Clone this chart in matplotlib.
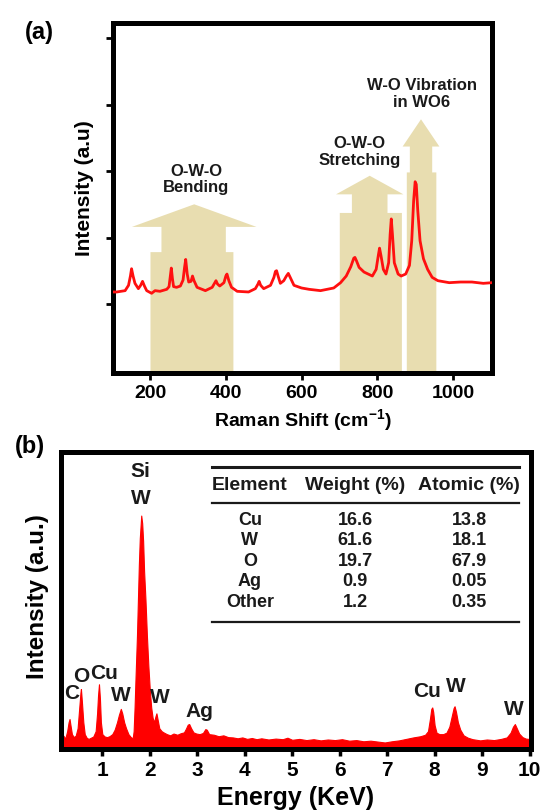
import matplotlib
matplotlib.use('Agg')
import matplotlib.pyplot as plt

plt.rcParams['font.family'] = ['Liberation Sans', 'DejaVu Sans']
plt.rcParams['font.weight'] = 'bold'
plt.rcParams['mathtext.fontset'] = 'custom'
plt.rcParams['mathtext.rm'] = 'Liberation Sans:bold'
plt.rcParams['mathtext.bf'] = 'Liberation Sans:bold'
plt.rcParams['mathtext.default'] = 'bf'

# (a) Raman spectrum
raman_shift = [102, 112, 134, 143, 148, 151, 155, 160, 169, 175, 180, 185, 191, 204, 213, 226,
               244, 250, 253, 256, 259, 262, 270, 280, 287, 291, 294, 298, 302, 308, 312, 316,
               324, 346, 364, 370, 374, 378, 384, 395, 400, 403, 408, 415, 430, 460, 478, 485,
               488, 492, 500, 518, 527, 531, 534, 538, 544, 553, 560, 565, 570, 580, 600, 620,
               650, 685, 703, 718, 730, 738, 741, 745, 752, 765, 776, 787, 797, 803, 806, 810,
               816, 823, 830, 834, 837, 840, 845, 855, 863, 875, 885, 891, 896, 900, 903, 907,
               913, 922, 933, 945, 960, 990, 1020, 1050, 1080, 1103]
raman_int = [1.18, 1.18, 1.20, 1.28, 1.42, 1.53, 1.42, 1.31, 1.23, 1.28, 1.34, 1.27, 1.20, 1.16, 1.20, 1.19,
             1.22, 1.26, 1.40, 1.54, 1.38, 1.26, 1.25, 1.27, 1.36, 1.55, 1.67, 1.45, 1.33, 1.34, 1.42, 1.35,
             1.25, 1.20, 1.25, 1.31, 1.35, 1.30, 1.27, 1.32, 1.42, 1.45, 1.35, 1.25, 1.19, 1.18, 1.23, 1.30,
             1.34, 1.28, 1.23, 1.28, 1.40, 1.49, 1.50, 1.42, 1.31, 1.35, 1.42, 1.46, 1.40, 1.28, 1.24, 1.22,
             1.20, 1.24, 1.32, 1.42, 1.56, 1.69, 1.70, 1.65, 1.55, 1.48, 1.45, 1.42, 1.52, 1.74, 1.84, 1.72,
             1.52, 1.45, 1.62, 2.05, 2.28, 2.05, 1.62, 1.45, 1.42, 1.45, 1.58, 1.95, 2.55, 2.84, 2.80, 2.40,
             1.95, 1.68, 1.52, 1.40, 1.35, 1.32, 1.33, 1.33, 1.31, 1.32]

# band regions (lower block, neck, arrow head) and their labels
band_names = ['O-W-O\nBending', 'O-W-O\nStretching', 'W-O Vibration\nin WO6']
band_lo = [201, 701, 878]
band_hi = [420, 865, 956]
band_top = [1.78, 2.37, 2.98]
neck_lo = [230, 733, 886]
neck_hi = [400, 827, 945]
neck_top = [2.16, 2.65, 3.37]
head_lo = [152, 691, 867]
head_hi = [481, 869, 964]
head_tip = [2.50, 2.93, 3.78]
label_x = [322, 753, 918]
label_y = [2.89, 3.30, 4.18]

# (b) EDS spectrum
energy = [0.13, 0.18, 0.22, 0.26, 0.29, 0.31, 0.33, 0.36, 0.40, 0.44, 0.48, 0.51, 0.54, 0.55, 0.57, 0.60,
          0.63, 0.67, 0.71, 0.76, 0.81, 0.86, 0.89, 0.91, 0.93, 0.95, 0.97, 1.00, 1.05, 1.10, 1.15, 1.21,
          1.26, 1.31, 1.35, 1.39, 1.42, 1.46, 1.50, 1.55, 1.60, 1.64, 1.66, 1.68, 1.70, 1.73, 1.75, 1.77,
          1.79, 1.81, 1.82, 1.84, 1.86, 1.88, 1.91, 1.94, 1.97, 2.00, 2.03, 2.06, 2.09, 2.12, 2.14, 2.17,
          2.20, 2.25, 2.30, 2.36, 2.43, 2.50, 2.58, 2.65, 2.72, 2.76, 2.80, 2.83, 2.87, 2.92, 2.98, 3.05,
          3.12, 3.17, 3.20, 3.25, 3.35, 3.45, 3.55, 3.65, 3.75, 3.85, 3.95, 4.05, 4.15, 4.25, 4.35, 4.50,
          4.65, 4.80, 4.90, 5.00, 5.15, 5.30, 5.45, 5.60, 5.75, 5.90, 6.05, 6.20, 6.35, 6.50, 6.65, 6.80,
          6.95, 7.10, 7.25, 7.40, 7.55, 7.70, 7.80, 7.86, 7.90, 7.93, 7.95, 7.97, 8.00, 8.04, 8.10, 8.18,
          8.25, 8.31, 8.36, 8.40, 8.42, 8.45, 8.49, 8.54, 8.61, 8.70, 8.80, 8.96, 9.10, 9.25, 9.40, 9.52,
          9.60, 9.65, 9.69, 9.73, 9.78, 9.85, 9.92, 10.03]
counts = [3.0, 4.5, 3.5, 6.0, 9.0, 10.1, 8.0, 5.0, 4.0, 4.5, 7.0, 13.0, 19.0, 20.2, 16.0, 9.0,
          5.0, 3.8, 3.4, 3.8, 4.2, 6.0, 12.0, 18.0, 21.8, 17.0, 9.0, 5.0, 4.2, 4.0, 4.3, 5.0,
          6.5, 9.0, 11.5, 13.5, 12.0, 9.0, 7.0, 5.0, 4.0, 3.6, 6.0, 14.0, 24.0, 38.0, 50.0, 62.0,
          71.0, 76.0, 78.6, 76.0, 70.0, 60.0, 50.0, 38.0, 28.0, 20.0, 14.0, 10.5, 9.0, 11.0, 12.0, 9.5,
          7.0, 6.0, 5.5, 5.0, 4.6, 5.2, 4.8, 5.3, 5.6, 6.8, 8.2, 8.4, 7.0, 5.6, 5.2, 5.0,
          5.4, 6.7, 6.5, 5.0, 4.8, 4.3, 4.6, 4.0, 3.9, 3.6, 3.9, 3.4, 3.7, 3.3, 3.6, 3.2,
          3.5, 3.3, 3.8, 3.1, 3.4, 3.0, 3.3, 2.9, 3.2, 3.0, 3.3, 2.8, 3.0, 2.6, 2.8, 2.5,
          2.2, 2.6, 2.9, 3.4, 3.9, 4.3, 4.8, 6.0, 10.0, 13.5, 14.0, 12.5, 8.0, 5.5, 5.0, 5.0,
          5.5, 7.5, 11.0, 13.8, 14.4, 12.5, 9.0, 6.5, 4.6, 3.8, 3.3, 2.9, 3.2, 3.0, 3.4, 3.9,
          5.5, 7.5, 8.4, 7.0, 5.2, 4.0, 3.5, 3.3]

peak_labels = ['C', 'O', 'Cu', 'W', 'Si', 'W', 'W', 'Ag', 'Cu', 'W', 'W']
peak_label_x = [0.345, 0.56, 1.04, 1.39, 1.81, 1.81, 2.21, 3.04, 7.84, 8.44, 9.67]
peak_label_y = [19.1, 24.7, 25.8, 18.5, 93.7, 84.7, 17.7, 12.9, 19.6, 21.3, 13.5]

# composition table
elements = ['Cu', 'W', 'O', 'Ag', 'Other']
weight_pct = ['16.6', '61.6', '19.7', '0.9', '1.2']
atomic_pct = ['13.8', '18.1', '67.9', '0.05', '0.35']
table_header = ['Element', 'Weight (%)', 'Atomic (%)']

beige = '#e8ddb0'
ink = '#1a1a1a'

fig = plt.figure(figsize=(5.44, 8.12), dpi=100)

# ---------- (a) ----------
ax = fig.add_axes([113/544, 1-374/812, 379/544, 350/812])
for i in range(len(band_names)):
    xs = [band_lo[i], band_hi[i], band_hi[i], neck_hi[i], neck_hi[i], head_hi[i],
          (head_lo[i] + head_hi[i]) / 2, head_lo[i], neck_lo[i], neck_lo[i], band_lo[i]]
    ys = [-0.1, -0.1, band_top[i], band_top[i], neck_top[i], neck_top[i],
          head_tip[i], neck_top[i], neck_top[i], band_top[i], band_top[i]]
    ax.fill(xs, ys, color=beige, lw=0, zorder=1)
    ax.text(label_x[i], label_y[i], band_names[i], ha='center', va='center',
            fontsize=12, fontweight='bold', color=ink, linespacing=1.15)
ax.plot(raman_shift, raman_int, color='#ff1010', lw=2, zorder=3)
ax.set_xlim(102, 1103)
ax.set_ylim(-0.04, 5.23)
ax.set_xticks([200, 400, 600, 800, 1000])
ax.set_yticks([1, 2, 3, 4, 5])
ax.set_yticklabels([])
ax.tick_params(direction='out', length=5, width=2, labelsize=14, pad=3, color='k')
for lab in ax.get_xticklabels():
    lab.set_fontweight('bold')
for s in ax.spines.values():
    s.set_linewidth(3.6)
ax.set_xlabel('Raman Shift (cm$^{-1}$)', fontsize=14, fontweight='bold', va='center')
ax.xaxis.set_label_coords(0.5, -0.131)
ax.set_ylabel('Intensity (a.u)', fontsize=15, fontweight='bold', va='center')
ax.yaxis.set_label_coords(-0.074, 0.531)
fig.text(39/544, 1-33/812, '(a)', fontsize=17, fontweight='bold', ha='center', va='center')

# ---------- (b) ----------
bx = fig.add_axes([61/544, 1-750/812, 470/544, 297/812])
bx.fill_between(energy, 0, counts, color='#ff0000', lw=0.8, edgecolor='#ff0000', zorder=2)
bx.set_xlim(0.13, 10.03)
bx.set_ylim(0, 100)
bx.set_xticks(range(1, 11))
bx.set_yticks([])
bx.tick_params(direction='out', length=5, width=2.5, labelsize=15, pad=3, color='k')
for lab in bx.get_xticklabels():
    lab.set_fontweight('bold')
for s in bx.spines.values():
    s.set_linewidth(3.6)
bx.set_xlabel('Energy (KeV)', fontsize=18, fontweight='bold', va='center')
bx.xaxis.set_label_coords(0.5, -0.162)
bx.set_ylabel('Intensity (a.u.)', fontsize=17.5, fontweight='bold', va='center')
bx.yaxis.set_label_coords(-0.049, 0.515)
for t, x, y in zip(peak_labels, peak_label_x, peak_label_y):
    bx.text(x, y, t, ha='center', va='center', fontsize=15, fontweight='bold', color=ink)

# table inside panel (b)
col_x = [0.402, 0.626, 0.868]
row_y = [0.774, 0.704, 0.633, 0.566, 0.498]
tr = bx.transAxes
bx.plot([0.321, 0.974], [0.949, 0.949], color=ink, lw=2.2, transform=tr)
bx.plot([0.321, 0.974], [0.828, 0.828], color=ink, lw=1.6, transform=tr)
bx.plot([0.321, 0.974], [0.428, 0.428], color=ink, lw=1.6, transform=tr)
for h, x in zip(table_header, col_x):
    bx.text(x, 0.889, h, transform=tr, ha='center', va='center', fontsize=14,
            fontweight='bold', color=ink)
for col, x in zip([elements, weight_pct, atomic_pct], col_x):
    for v, y in zip(col, row_y):
        bx.text(x, y, v, transform=tr, ha='center', va='center', fontsize=13,
                fontweight='bold', color=ink)
fig.text(29.5/544, 1-447/812, '(b)', fontsize=17, fontweight='bold', ha='center', va='center')

plt.savefig('out.png', dpi=100)
